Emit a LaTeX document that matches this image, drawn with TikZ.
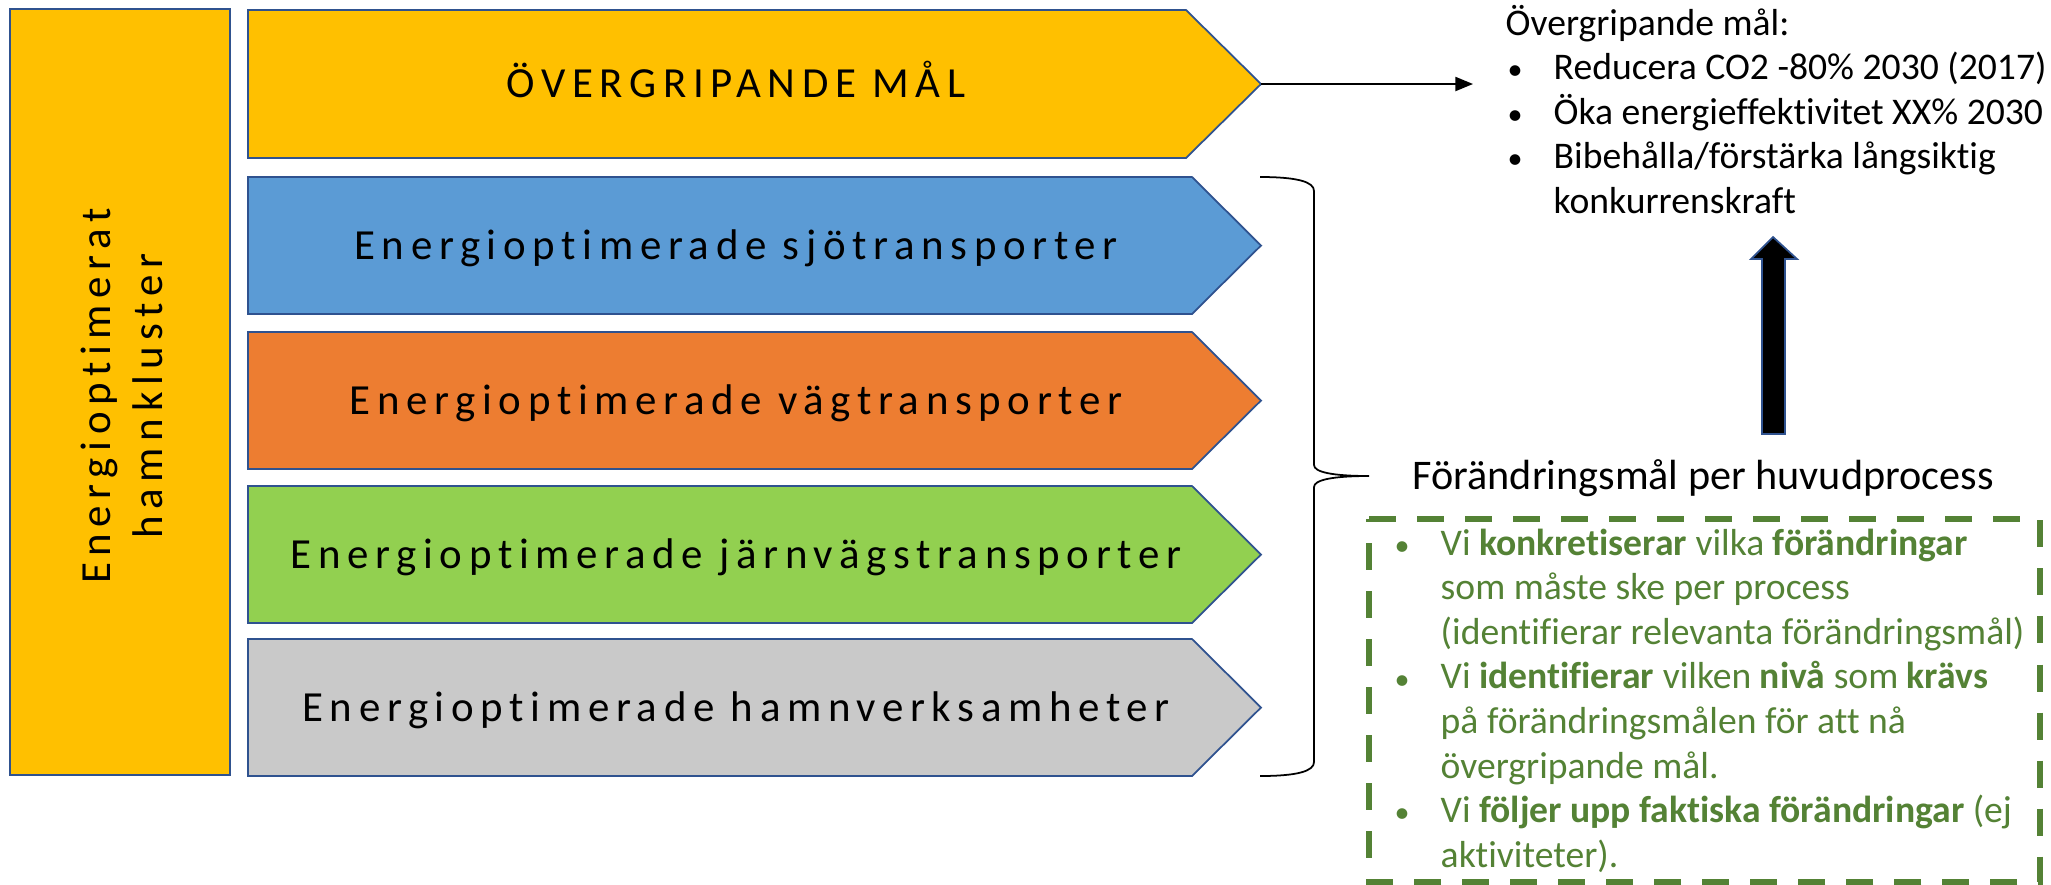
\documentclass[tikz,border=0pt]{standalone}
\usepackage{fontspec}
\setmainfont{Carlito}[Ligatures=NoCommon]
\newfontfamily\spaced[LetterSpace=15.5,Ligatures=NoCommon]{Carlito}
\usetikzlibrary{arrows.meta}

\definecolor{gold}{HTML}{FFC000}
\definecolor{seablue}{HTML}{5B9BD5}
\definecolor{roadorange}{HTML}{ED7D31}
\definecolor{railgreen}{HTML}{92D050}
\definecolor{portgray}{HTML}{C9C9C9}
\definecolor{edgeblue}{HTML}{2F528F}
\definecolor{darkgreen}{HTML}{548235}

\newcommand{\bul}{\makebox[0.48cm][l]{\hspace*{0.02cm}\scalebox{0.8}{\textbullet}}}
\newcommand{\ind}{\hspace*{0.48cm}}

\tikzset{
  chev/.style={draw=edgeblue,line width=0.5pt},
  chevtext/.style={font=\spaced\fontsize{12.2}{14.8}\selectfont,text height=7.7pt,text depth=0pt,inner sep=0pt},
  listtext/.style={anchor=base west,inner sep=0pt,font=\fontsize{10.7}{12.7}\selectfont},
}

\begin{document}
\begin{tikzpicture}[x=0.01cm,y=-0.01cm]
	\useasboundingbox (0,0) rectangle (2051,884);
	
	\draw[chev,fill=gold] (10,9) rectangle (230,775);
	\node[font=\spaced\fontsize{12.2}{14.8}\selectfont,rotate=90,align=center] (cluster) at (122,396) {Energioptimerat\\hamnkluster};
	
	\draw[chev,fill=gold] (248,10) -- (1186,10) -- (1261,84) -- (1186,158) -- (248,158) -- cycle;
	\coordinate (toptip) at (1261,84);
	\node[chevtext] (overall) at (736,84) {ÖVERGRIPANDE MÅL};
	
	\foreach \t/\c/\n/\lab in {177/seablue/sea/sjötransporter,332/roadorange/road/vägtransporter,486/railgreen/rail/järnvägstransporter,639/portgray/port/hamnverksamheter}{
		\draw[chev,fill=\c] (248,\t) -- (1192,\t) -- (1261,{\t+68.5}) -- (1192,{\t+137}) -- (248,{\t+137}) -- cycle;
		\node[chevtext] (\n) at (736,{\t+68.5}) {Energioptimerade \lab};
	}
	
	\node[listtext] (goals) at (1505,35) {\begin{tabular}[t]{@{}l@{}}
		Övergripande mål:\\
		\bul Reducera CO2 -80\% 2030 (2017)\\
		\bul Öka energieffektivitet XX\% 2030\\
		\bul Bibehålla/förstärka långsiktig\\
		\ind konkurrenskraft
	\end{tabular}};
	\coordinate (goalsin) at (1473,84);
	\draw[line width=0.5pt,-{Triangle[length=5pt,width=4pt]}] (toptip) -- (goalsin);
	
	% brace round the four processes
	\draw[line width=0.5pt] (1260,177) .. controls (1298,177) and (1314,182) .. (1314,191) -- (1314,465)
		.. controls (1314,472) and (1332,476) .. (1369,476)
		.. controls (1332,476) and (1314,480) .. (1314,487) -- (1314,762)
		.. controls (1314,771) and (1298,776) .. (1260,776);
	
	\node[listtext,font=\fontsize{12}{14}\selectfont] (change) at (1412,489) {Förändringsmål per huvudprocess};
	
	\draw[draw=edgeblue,fill=black,line width=0.5pt] (1762,434) -- (1762,259) -- (1751,259) -- (1773,237)
		-- (1797,259) -- (1785,259) -- (1785,434) -- cycle;
	
	\draw[darkgreen,line width=1.7pt,dash pattern=on 0.27cm off 0.21cm] (1369,519) -- (2040,519) -- (2040,882) -- (1369,882) -- cycle;
	\node[listtext,text=darkgreen] (steps) at (1392,555) {\begin{tabular}[t]{@{}l@{}}
		\bul Vi \textbf{konkretiserar} vilka \textbf{förändringar}\\
		\ind som måste ske per process\\
		\ind (identifierar relevanta förändringsmål)\\
		\bul Vi \textbf{identifierar} vilken \textbf{nivå} som \textbf{krävs}\\
		\ind på förändringsmålen för att nå\\
		\ind övergripande mål.\\
		\bul Vi \textbf{följer upp faktiska förändringar} (ej\\
		\ind aktiviteter).
	\end{tabular}};
\end{tikzpicture}
\end{document}
